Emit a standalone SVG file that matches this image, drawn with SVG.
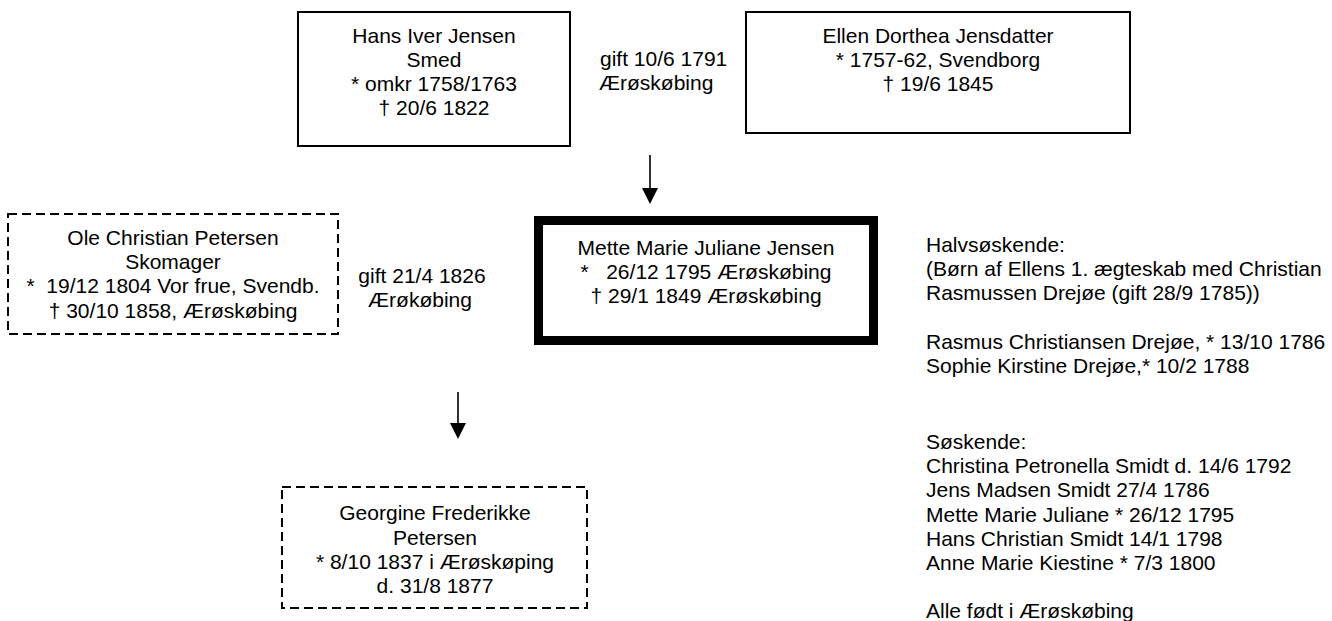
<svg xmlns="http://www.w3.org/2000/svg" width="1332" height="621" viewBox="0 0 1332 621">
  <style>
    text { font-family: "Liberation Sans", Arial, sans-serif; font-size: 21px; fill: #000; }
    .c { text-anchor: middle; }
    .box { fill: #fff; stroke: #000; stroke-width: 2; }
    .dash { fill: #fff; stroke: #000; stroke-width: 2; stroke-dasharray: 9 5; }
    .thick { fill: #fff; stroke: #000; stroke-width: 9; }
    .conn { stroke: #000; stroke-width: 1.6; fill: none; marker-end: url(#arr); }
  </style>
  <defs>
    <marker id="arr" viewBox="0 0 16 16" refX="8" refY="8" markerWidth="16" markerHeight="16" markerUnits="userSpaceOnUse" orient="auto">
      <path d="M0,0 L16,8 L0,16 z" fill="#000"/>
    </marker>
  </defs>
  <rect width="1332" height="621" fill="#fff"/>

  <g id="connectors">
    <line class="conn" x1="650" y1="155" x2="650" y2="196"/>
    <line class="conn" x1="458" y1="392" x2="458" y2="431"/>
  </g>

  <g id="hans">
    <rect class="box" x="298" y="12" width="272" height="134"/>
    <text class="c" x="434" y="43">Hans Iver Jensen</text>
    <text class="c" x="434" y="67">Smed</text>
    <text class="c" x="434" y="91">* omkr 1758/1763</text>
    <text class="c" x="434" y="115">† 20/6 1822</text>
  </g>

  <g id="marriage1">
    <text x="600" y="66">gift 10/6 1791</text>
    <text x="599" y="90">Ærøskøbing</text>
  </g>

  <g id="ellen">
    <rect class="box" x="746" y="12" width="384" height="121"/>
    <text class="c" x="938" y="43">Ellen Dorthea Jensdatter</text>
    <text class="c" x="938" y="67">* 1757-62, Svendborg</text>
    <text class="c" x="938" y="91">† 19/6 1845</text>
  </g>

  <g id="ole">
    <rect class="dash" x="8" y="214" width="330" height="120"/>
    <text class="c" x="173" y="245">Ole Christian Petersen</text>
    <text class="c" x="173" y="269">Skomager</text>
    <text class="c" x="173" y="293" xml:space="preserve">*  19/12 1804 Vor frue, Svendb.</text>
    <text class="c" x="173" y="318">† 30/10 1858, Ærøskøbing</text>
  </g>

  <g id="marriage2">
    <text class="c" x="422" y="283">gift 21/4 1826</text>
    <text class="c" x="420" y="307">Ærøkøbing</text>
  </g>

  <g id="mette">
    <rect class="thick" x="538.5" y="220.5" width="335" height="120"/>
    <text class="c" x="706" y="255">Mette Marie Juliane Jensen</text>
    <text class="c" x="706" y="279" xml:space="preserve">*   26/12 1795 Ærøskøbing</text>
    <text class="c" x="706" y="303">† 29/1 1849 Ærøskøbing</text>
  </g>

  <g id="georgine">
    <rect class="dash" x="282" y="487" width="305" height="121"/>
    <text class="c" x="435" y="520">Georgine Frederikke</text>
    <text class="c" x="435" y="545">Petersen</text>
    <text class="c" x="435" y="569">* 8/10 1837 i Ærøskøping</text>
    <text class="c" x="435" y="593">d. 31/8 1877</text>
  </g>

  <g id="siblings">
    <text x="926" y="252">Halvsøskende:</text>
    <text x="926" y="276">(Børn af Ellens 1. ægteskab med Christian</text>
    <text x="926" y="300">Rasmussen Drejøe (gift 28/9 1785))</text>
    <text x="926" y="349">Rasmus Christiansen Drejøe, * 13/10 1786</text>
    <text x="926" y="373">Sophie Kirstine Drejøe,* 10/2 1788</text>
    <text x="926" y="449">Søskende:</text>
    <text x="926" y="473">Christina Petronella Smidt d. 14/6 1792</text>
    <text x="926" y="497">Jens Madsen Smidt 27/4 1786</text>
    <text x="926" y="522">Mette Marie Juliane * 26/12 1795</text>
    <text x="926" y="546">Hans Christian Smidt 14/1 1798</text>
    <text x="926" y="570">Anne Marie Kiestine * 7/3 1800</text>
    <text x="926" y="618">Alle født i Ærøskøbing</text>
  </g>
</svg>
